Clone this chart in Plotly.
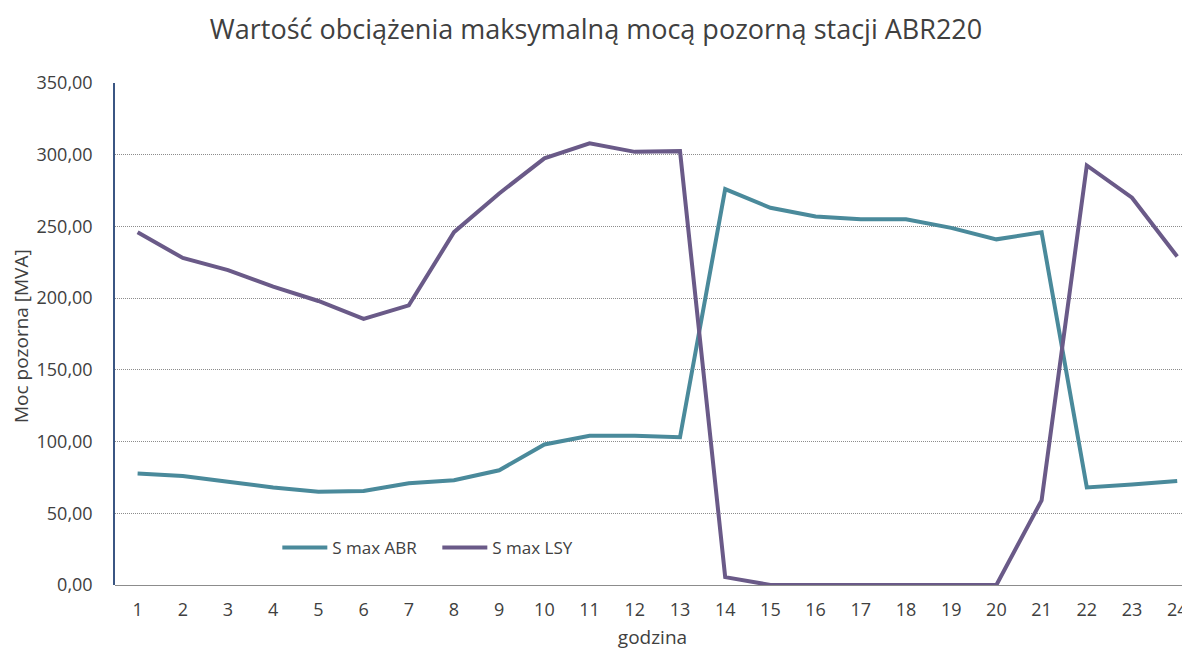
import plotly.graph_objects as go

hours = list(range(1, 25))
s_max_abr = [77.7, 76, 72, 68, 65, 65.5, 71, 73, 80, 98, 104, 104, 103,
             276, 263, 257, 255, 255, 249, 241, 246, 68, 70, 72.5]
s_max_lsy = [246, 228, 219.5, 208, 198, 185.5, 195, 246, 273, 297.5, 308, 302, 302.5,
             5.5, 0, 0, 0, 0, 0, 0, 59, 292.5, 270, 229]
y_ticks = [0, 50, 100, 150, 200, 250, 300, 350]

FONT = "Open Sans"
fig = go.Figure()
fig.add_trace(go.Scatter(x=hours, y=s_max_abr, mode="lines", name="S max ABR",
                         line=dict(color="#4A8A9B", width=4)))
fig.add_trace(go.Scatter(x=hours, y=s_max_lsy, mode="lines", name="S max LSY",
                         line=dict(color="#6A5A88", width=4)))

fig.update_layout(
    width=1182, height=642,
    paper_bgcolor="white", plot_bgcolor="white",
    margin=dict(l=107, r=0, t=75, b=65, autoexpand=False),
    separators=",.",
    font=dict(family=FONT, color="#404040"),
    title=dict(text="Wartość obciążenia maksymalną mocą pozorną stacji ABR220",
               x=0.4975, xanchor="center", y=0.9657, yanchor="middle",
               font=dict(size=27, color="#404040", family=FONT)),
    showlegend=True,
    legend=dict(orientation="h", x=0.151, y=0.074, xanchor="left", yanchor="middle",
                font=dict(size=17, color="#404040"), bgcolor="rgba(0,0,0,0)",
                itemwidth=45, entrywidth=100, tracegroupgap=0),
    xaxis=dict(range=[0.5, 0.5 + 1075 / 45.2], tickmode="array", tickvals=hours,
               ticktext=[str(h) for h in hours], showgrid=False, zeroline=False,
               showline=False, ticks="", ticklabelstandoff=12,
               tickfont=dict(size=18, color="#404040"),
               title=dict(text="godzina", font=dict(size=19, color="#404040"), standoff=13)),
    yaxis=dict(range=[0, 350], tickmode="array", tickvals=y_ticks, tickformat=".2f",
               showgrid=True, gridcolor="#8c8c8c", griddash="1px,1px", gridwidth=1,
               zeroline=True, zerolinecolor="#8c8c8c", zerolinewidth=1,
               showline=True, linecolor="#3B5683", linewidth=1.5,
               ticks="", ticklabelstandoff=17,
               tickfont=dict(size=18, color="#404040")),
    annotations=[dict(text="Moc pozorna [MVA]", textangle=-90, showarrow=False,
                      xref="paper", yref="paper", x=-0.0874, y=0.496,
                      xanchor="center", yanchor="middle", borderpad=0,
                      font=dict(size=19, color="#404040", family=FONT))],
)

fig.write_html("out.html")
